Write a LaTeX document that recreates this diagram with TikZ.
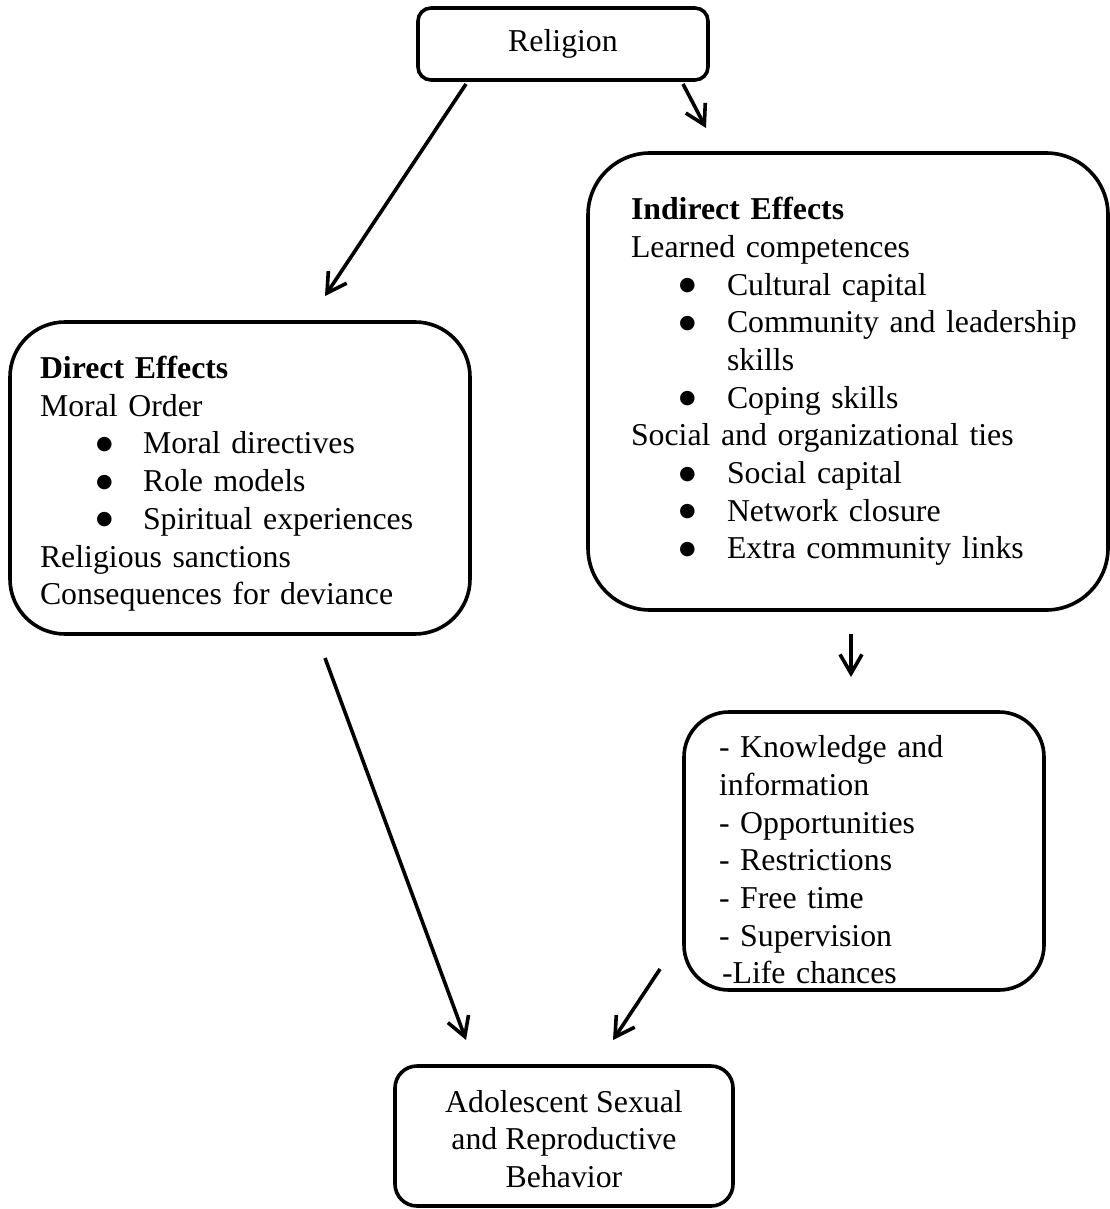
\documentclass[tikz,border=0pt]{standalone}
\usepackage{fontspec}
\setmainfont{Liberation Serif}
\newfontfamily\dotfont{DejaVu Sans}
\usetikzlibrary{arrows.meta}

\newcommand{\bitem}[3]{\mbox{\hspace*{#1}\makebox[#2][l]{\raisebox{4.5pt}{\fontsize{19}{19}\dotfont ●}}#3}}
\newcommand{\topgap}[1]{\rule{0pt}{#1}}

\begin{document}
\begin{tikzpicture}[
    x=1pt, y=-1pt,
    every node/.style={font=\fontsize{31.8}{37.7}\selectfont},
    box/.style={draw, line width=3.6pt, inner ysep=0pt},
    arr/.style={-{Straight Barb[length=19pt,width=22pt]}, line width=3.6pt}
]
\useasboundingbox (0,0) rectangle (1110,1209);

% Boxes
\node[box, rounded corners=13pt, minimum width=290pt, minimum height=72pt] (religion) at (563,44) {Religion};

\node[box, rounded corners=55pt, minimum width=460pt, minimum height=312pt,
      inner xsep=30pt, text width=400pt, align=left] (direct) at (240,478)
    {\topgap{34pt}\textbf{Direct Effects}\\
     Moral Order\\
     \bitem{56pt}{47pt}{Moral directives}\\
     \bitem{56pt}{47pt}{Role models}\\
     \bitem{56pt}{47pt}{Spiritual experiences}\\
     Religious sanctions\\
     Consequences for deviance};

\node[box, rounded corners=62pt, minimum width=520pt, minimum height=457pt,
      inner xsep=43pt, text width=434pt, align=left] (indirect) at (848,381.5)
    {\textbf{Indirect Effects}\\
     Learned competences\\
     \bitem{48pt}{48pt}{Cultural capital}\\
     \bitem{48pt}{48pt}{Community and leadership}\\
     \hspace*{96pt}skills\\
     \bitem{48pt}{48pt}{Coping skills}\\
     Social and organizational ties\\
     \bitem{48pt}{48pt}{Social capital}\\
     \bitem{48pt}{48pt}{Network closure}\\
     \bitem{48pt}{48pt}{Extra community links}};

\node[box, rounded corners=45pt, minimum width=360pt, minimum height=278pt,
      inner xsep=35pt, text width=290pt, align=left] (means) at (864,851)
    {\topgap{40pt}- Knowledge and\\
     information\\
     - Opportunities\\
     - Restrictions\\
     - Free time\\
     - Supervision\\
     \hspace*{3pt}-Life chances};

\node[box, rounded corners=22pt, minimum width=338pt, minimum height=140pt,
      align=center] (outcome) at (564,1136)
    {\topgap{28pt}Adolescent Sexual\\
     and Reproductive\\
     Behavior};

% Arrow ends
\coordinate (relA) at (466,84);
\coordinate (dirIn) at (325,296);
\coordinate (relB) at (683,84);
\coordinate (indIn) at (706,128);
\coordinate (indOut) at (851,634);
\coordinate (meansIn) at (851,677);
\coordinate (dirOut) at (325,658);
\coordinate (outInA) at (466,1040);
\coordinate (meansOut) at (660,969);
\coordinate (outInB) at (613,1040);

% Arrows
\draw[arr] (relA) -- (dirIn);
\draw[arr] (relB) -- (indIn);
\draw[arr] (indOut) -- (meansIn);
\draw[arr] (dirOut) -- (outInA);
\draw[arr] (meansOut) -- (outInB);

\end{tikzpicture}
\end{document}
